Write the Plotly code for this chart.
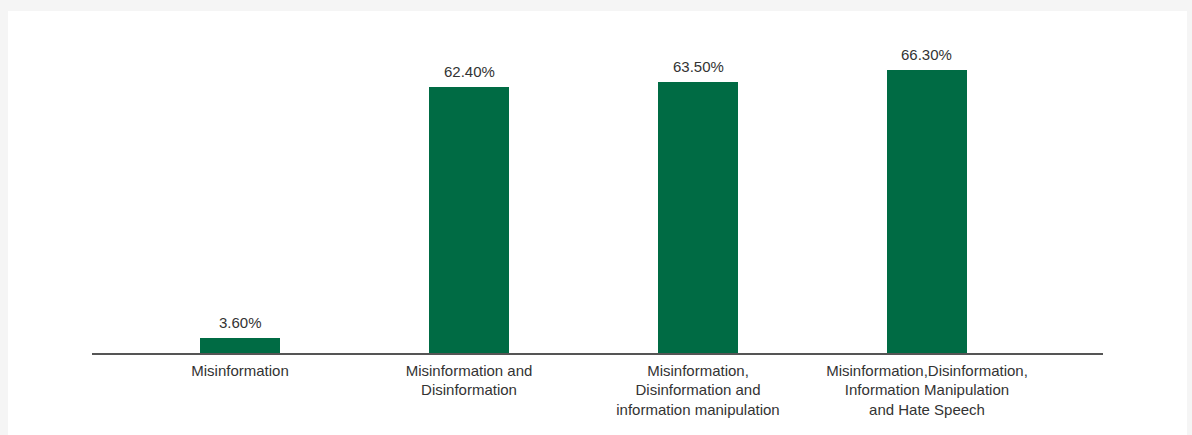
import plotly.graph_objects as go

# Share of respondents by information-disorder category
categories = [
    "Misinformation",
    "Misinformation and<br>Disinformation",
    "Misinformation,<br>Disinformation and<br>information manipulation",
    "Misinformation,Disinformation,<br>Information Manipulation<br>and Hate Speech",
]
values = [3.6, 62.4, 63.5, 66.3]

BAR_COLOR = "#006b44"
TEXT_COLOR = "#333333"
FONT = "Liberation Sans, Arial, sans-serif"

positions = list(range(len(categories)))

fig = go.Figure()
fig.add_trace(
    go.Bar(
        x=positions,
        y=values,
        width=0.349,
        marker=dict(color=BAR_COLOR, line=dict(width=0)),
        hoverinfo="skip",
    )
)

# Value labels above each bar
for xi, v in zip(positions, values):
    fig.add_annotation(
        x=xi, y=v, xref="x", yref="y",
        text=f"{v:.2f}%",
        showarrow=False,
        yanchor="bottom",
        yshift=5,
        font=dict(family=FONT, size=15, color=TEXT_COLOR),
    )

# White card on the grey page
fig.add_shape(
    type="rect", xref="paper", yref="paper",
    x0=-0.0831, x1=1.0831, y0=-0.2563, y1=1.0688,
    fillcolor="white", line=dict(width=0), layer="below",
)

fig.update_layout(
    width=1192,
    height=435,
    margin=dict(l=92, r=89, t=33, b=82),
    paper_bgcolor="#f5f5f5",
    plot_bgcolor="white",
    showlegend=False,
    bargap=0,
    font=dict(family=FONT, size=15, color=TEXT_COLOR),
    xaxis=dict(
        range=[-0.6463, 3.7686],
        tickmode="array",
        tickvals=positions,
        ticktext=categories,
        ticks="",
        ticklabelstandoff=3,
        showgrid=False,
        zeroline=False,
        showline=True,
        linecolor="#555555",
        linewidth=1.5,
        tickfont=dict(family=FONT, size=15, color=TEXT_COLOR),
        fixedrange=True,
    ),
    yaxis=dict(
        range=[0, 75],
        visible=False,
        showgrid=False,
        zeroline=False,
        fixedrange=True,
    ),
)

fig.write_html("out.html")
